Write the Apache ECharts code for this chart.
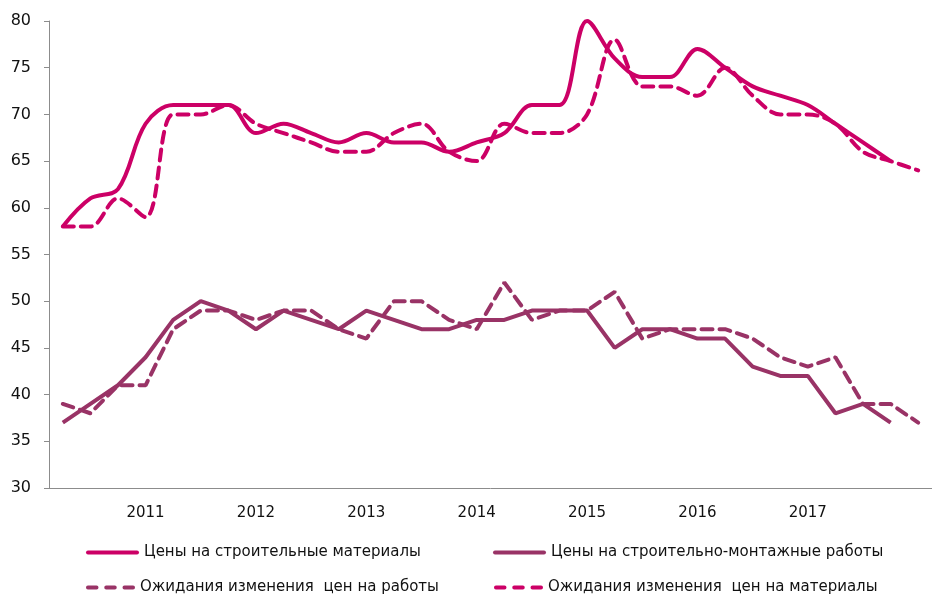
<!DOCTYPE html>
<html><head><meta charset="utf-8">
<script src="https://cdn.jsdelivr.net/npm/echarts@6/dist/echarts.min.js"></script>
<style>html,body{margin:0;padding:0;background:#fff}#c{width:932px;height:597px}</style>
</head><body><div id="c"></div>
<script>
// Quarterly categories, 2010 Q1 .. 2017 Q4; year labels shown on the 4th quarter of previous year
const categories = ['2010 I','2010 II','2010 III','2011','2011 I','2011 II','2011 III','2012','2012 I','2012 II','2012 III','2013','2013 I','2013 II','2013 III','2014','2014 I','2014 II','2014 III','2015','2015 I','2015 II','2015 III','2016','2016 I','2016 II','2016 III','2017','2017 I','2017 II','2017 III','2017 IV'];
const yTicks = {min: 30, max: 80, interval: 5};
const materialsPrices = [58,61,62,69,71,71,71,68,69,68,67,68,67,67,66,67,68,71,71,80,76,74,74,77,75,73,72,71,69,67,65];
const materialsExpect = [58,58,61,59,70,70,71,69,68,67,66,66,68,69,66,65,69,68,68,70,78,73,73,72,75,72,70,70,69,66,65,64];
const worksPrices = [37,39,41,44,48,50,49,47,49,48,47,49,48,47,47,48,48,49,49,49,45,47,47,46,46,43,42,42,38,39,37];
const worksExpect = [39,38,41,41,47,49,49,48,49,49,47,46,50,50,48,47,52,48,49,49,51,46,47,47,47,46,44,43,44,39,39,37];
const names = ['Цены на строительные материалы','Цены на строительно-монтажные работы','Ожидания изменения  цен на работы','Ожидания изменения  цен на материалы'];
const cMat = '#CC0066', cWork = '#993366';

const chart = echarts.init(document.getElementById('c'), null, {renderer:'canvas'});
const legendText = {fontFamily:'DejaVu Sans', fontSize:15, color:'#111'};
const solidIcon = 'path://M2,0h49a2,2 0 0 1 0,4h-49a2,2 0 0 1 0,-4z';
const dashIcon = 'path://M2,0h9a2,2 0 0 1 0,4h-9a2,2 0 0 1 0,-4z M21,0h9a2,2 0 0 1 0,4h-9a2,2 0 0 1 0,-4z M40,0h9a2,2 0 0 1 0,4h-9a2,2 0 0 1 0,-4z';
function lg(name, icon, w, left, top){
  return {data:[{name:name, icon:icon}], left:left, top:top, itemWidth:w, itemHeight:5, itemGap:0, padding:0, textStyle:legendText, selectedMode:false};
}
chart.setOption({
  animation:false,
  grid:{left:49, width:893, top:21, bottom:109},
  xAxis:{type:'category', data:categories, boundaryGap:true,
    axisLine:{lineStyle:{color:'#8c8c8c', width:1}},
    axisTick:{interval:function(i){return i%4===0;}, length:5, lineStyle:{color:'#8c8c8c'}},
    axisLabel:{interval:function(i){return i%4===3 && i<31;}, formatter:function(v){return v.split(' ')[0];}, margin:18, fontFamily:'DejaVu Sans', fontSize:15, color:'#111'}
  },
  yAxis:{type:'value', min:yTicks.min, max:yTicks.max, interval:yTicks.interval,
    axisLine:{show:true, lineStyle:{color:'#8c8c8c'}},
    axisTick:{show:true, length:5, lineStyle:{color:'#8c8c8c'}},
    splitLine:{show:false},
    axisLabel:{margin:18, fontFamily:'DejaVu Sans', fontSize:16, color:'#111'}
  },
  legend:[lg(names[0],solidIcon,53,86,545), lg(names[1],solidIcon,53,493,545), lg(names[2],dashIcon,49,86,580), lg(names[3],dashIcon,49,494,580)],
  series:[
    {name:names[0], type:'line', data:materialsPrices, smooth:0.35, symbol:'none', lineStyle:{color:cMat, width:4}, itemStyle:{color:cMat}, z:3},
    {name:names[1], type:'line', data:worksPrices, smooth:false, symbol:'none', lineStyle:{color:cWork, width:4}, itemStyle:{color:cWork}, z:3},
    {name:names[2], type:'line', data:worksExpect, smooth:false, symbol:'none', lineStyle:{color:cWork, width:4, type:[11,7], cap:'round'}, itemStyle:{color:cWork}, z:2},
    {name:names[3], type:'line', data:materialsExpect, smooth:0.35, symbol:'none', lineStyle:{color:cMat, width:4, type:[11,7], cap:'round'}, itemStyle:{color:cMat}, z:2}
  ]
});
</script></body></html>
